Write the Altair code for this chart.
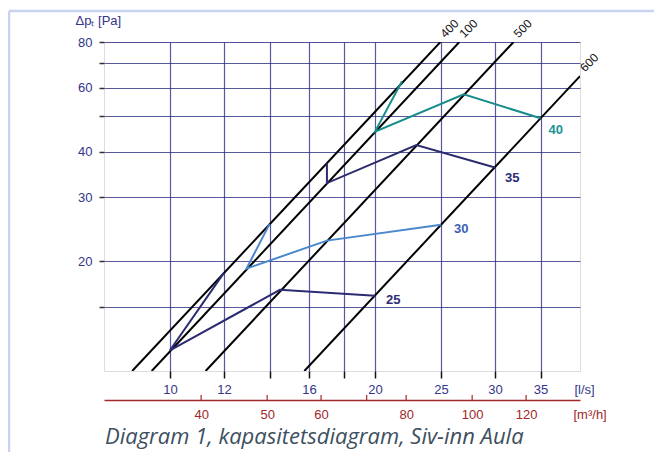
import altair as alt
import pandas as pd

# ---- data ----
# capacity curves: flow q [l/s] and total pressure dp [Pa], in drawing order
series_names = ["25", "30", "35", "40"]
q_25 = [12.0, 10.0, 14.5, 20.0]
dp_25 = [18.6, 11.4, 16.7, 16.1]
q_30 = [14.0, 12.95, 17.0, 25.0]
dp_30 = [25.3, 19.1, 22.8, 25.2]
q_35 = [17.0, 17.0, 23.0, 30.0]
dp_35 = [37.2, 32.8, 41.7, 36.2]
q_40 = [21.9, 20.0, 27.0, 35.0]
dp_40 = [62.3, 45.4, 57.5, 49.4]

# black system lines (start and end points)
line_names = ["400", "100", "500", "600"]
line_q_start = [8.80, 9.40, 11.28, 15.75]
line_dp_start = [10, 10, 10, 10]
line_q_end = [24.95, 26.6, 31.95, 40.0]
line_dp_end = [80, 80, 80, 64.5]

# axes
x_domain = [8, 40]
y_domain = [10, 80]
x_ticks = [10, 12, 14, 16, 18, 20, 25, 30, 35]
x_labels = [10, 12, 16, 20, 25, 30, 35]
y_ticks = [15, 20, 30, 40, 50, 60, 70, 80]
y_labels = [20, 30, 40, 60, 80]
m3h_ticks = [40, 50, 60, 70, 80, 100, 120]
m3h_labels = [40, 50, 60, 80, 100, 120]
LS_TO_M3H = 3.6

title_text = "Diagram 1, kapasitetsdiagram, Siv-inn Aula"

# ---- styles ----
FONT = "Liberation Sans"
NAVY = "#34348a"
RED = "#a02828"
BG = "#dcdde0"
series_color = {"25": "#2b2b72", "30": "#4a88cc", "35": "#2b2b6e", "40": "#178c8c"}
label_color = {"25": "#2d2d78", "30": "#3b62b5", "35": "#2d2d78", "40": "#1b9494"}
label_offset = {"25": (11, 4), "30": (13, 4.5), "35": (10, 11), "40": (8, 12)}

xs = alt.Scale(type="log", domain=x_domain, nice=False)
ys = alt.Scale(type="log", domain=y_domain, nice=False)

x_axis = alt.Axis(
    values=x_ticks,
    labelExpr="indexof(%s, datum.value) >= 0 ? datum.label : ''" % str(x_labels),
    grid=True, gridColor="#2e2e85", gridOpacity=0.8, gridWidth=1.2,
    domain=False, ticks=True, tickSize=7, tickColor="#111", tickWidth=1.5,
    labelFont=FONT, labelFontSize=13, labelColor=NAVY, labelPadding=5,
    title="[l/s]", titleX=470, titleY=18, titleAlign="left", titleBaseline="middle",
    titleFont=FONT, titleFontSize=13, titleFontWeight="normal", titleColor=NAVY,
)
y_axis = alt.Axis(
    values=y_ticks,
    labelExpr="indexof(%s, datum.value) >= 0 ? datum.label : ''" % str(y_labels),
    grid=True, gridColor="#2e2e85", gridOpacity=0.8, gridWidth=1.2,
    domain=False, ticks=True, tickSize=5, tickColor="#333", tickWidth=1.5,
    labelFont=FONT, labelFontSize=13, labelColor=NAVY, labelPadding=7,
    title="Δpₜ [Pa]", titleAngle=0, titleX=-29, titleY=-22, titleAlign="left",
    titleBaseline="middle", titleFont=FONT, titleFontSize=13,
    titleFontWeight="normal", titleColor=NAVY,
)

X = alt.X("q:Q", scale=xs, axis=x_axis)
Y = alt.Y("dp:Q", scale=ys, axis=y_axis)

layers = []

# system lines
rows = []
for n, qa, da, qb, db in zip(line_names, line_q_start, line_dp_start, line_q_end, line_dp_end):
    rows.append({"name": n, "q": qa, "dp": da, "i": 0})
    rows.append({"name": n, "q": qb, "dp": db, "i": 1})
lines_df = pd.DataFrame(rows)
layers.append(
    alt.Chart(lines_df).mark_line(color="#000", strokeWidth=2, clip=True)
    .encode(x=X, y=Y, detail="name:N", order="i:Q")
)
ends_df = pd.DataFrame({"name": line_names, "q": line_q_end, "dp": line_dp_end})
layers.append(
    alt.Chart(ends_df).mark_text(align="left", baseline="middle", angle=315, dx=6, dy=-3,
                                 font=FONT, fontSize=12, color="#111")
    .encode(x=X, y=Y, text="name:N")
)

# capacity curves
series_q = {"25": q_25, "30": q_30, "35": q_35, "40": q_40}
series_dp = {"25": dp_25, "30": dp_30, "35": dp_35, "40": dp_40}
for n in series_names:
    df = pd.DataFrame({"q": series_q[n], "dp": series_dp[n], "i": range(len(series_q[n]))})
    layers.append(
        alt.Chart(df).mark_line(color=series_color[n], strokeWidth=2)
        .encode(x=X, y=Y, order="i:Q")
    )
    lab = pd.DataFrame({"q": [series_q[n][-1]], "dp": [series_dp[n][-1]], "t": [n]})
    dx, dy = label_offset[n]
    layers.append(
        alt.Chart(lab).mark_text(align="left", baseline="middle", dx=dx, dy=dy, font=FONT,
                                 fontSize=13, fontWeight="bold", color=label_color[n])
        .encode(x=X, y=Y, text="t:N")
    )

# decorative outer frame lines and caption
one = pd.DataFrame({"t": [title_text]})
layers.append(
    alt.Chart(one).mark_rule(color="#c9d3ef", strokeWidth=2.5)
    .encode(x=alt.value(-95), x2=alt.value(560), y=alt.value(-31))
)
layers.append(
    alt.Chart(one).mark_rule(color="#c9d3ef", strokeWidth=2.5)
    .encode(x=alt.value(-95), y=alt.value(-31), y2=alt.value(420))
)
layers.append(
    alt.Chart(one).mark_text(align="left", baseline="alphabetic", font="Open Sans",
                             fontSize=22, fontStyle="italic", color="#3d4f60")
    .encode(x=alt.value(1), y=alt.value(402), text="t:N")
)

main = alt.layer(*layers)

# secondary flow axis in m3/h
m3h_df = pd.DataFrame({"m3h": m3h_ticks})
red = alt.Chart(m3h_df).mark_rule(color=RED, strokeWidth=1.2).encode(
    x=alt.X("m3h:Q",
            scale=alt.Scale(type="log", domain=[v * LS_TO_M3H for v in x_domain], nice=False),
            axis=alt.Axis(orient="bottom", offset=29, values=m3h_labels, ticks=False, tickSize=0,
                          grid=False, domainColor=RED, domainWidth=1.5,
                          labelFont=FONT, labelFontSize=13, labelColor=RED, labelPadding=8,
                          title="[m³/h]", titleX=469, titleY=14, titleAlign="left",
                          titleBaseline="middle", titleFont=FONT, titleFontSize=13,
                          titleFontWeight="normal", titleColor=RED)),
    y=alt.value(353), y2=alt.value(358),
)

chart = (
    alt.layer(main, red)
    .resolve_scale(x="independent")
    .properties(width=476, height=329, autosize="none",
                padding={"left": 96, "top": 34, "right": 74, "bottom": 81})
    .configure_view(fill=BG, stroke="#111", strokeWidth=1.5)
    .configure(background="white")
)

chart.save("out.html", embed_options={"renderer": "svg", "actions": False})
